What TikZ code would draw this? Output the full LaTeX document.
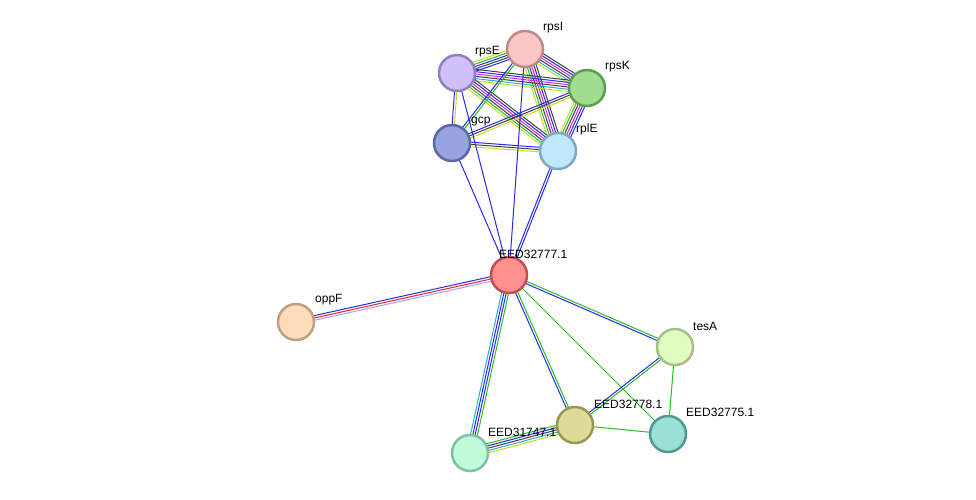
\documentclass[tikz,border=0pt]{standalone}
\usepackage{fontspec}
\setmainfont{Liberation Sans}
\usetikzlibrary{calc}
\definecolor{cG}{HTML}{22C022}\definecolor{cB}{HTML}{2828F0}\definecolor{cR}{HTML}{F02020}
\definecolor{cC}{HTML}{20B0D8}\definecolor{cM}{HTML}{E020E0}\definecolor{cK}{HTML}{404040}
\definecolor{cY}{HTML}{C8D820}\definecolor{cL}{HTML}{A8A0F0}
\newcommand{\medge}[3]{%
 \foreach \c [count=\i] in {#3} {\xdef\nn{\i}}%
 \foreach \c [count=\i] in {#3} {%
  \pgfmathsetmacro{\o}{(\i-(\nn+1)/2)*2.3}%
  \draw[\c,line width=1pt] ($(#1)!\o pt!90:(#2)$) -- ($(#2)!\o pt!-90:(#1)$);}}
\tikzset{prot/.style={circle,minimum size=36pt,inner sep=0pt,line width=2.5pt},
 lab/.style={anchor=west,inner sep=0pt,font=\fontsize{12}{12}\selectfont}}
\begin{document}
\begin{tikzpicture}[x=1pt,y=-1pt]
\useasboundingbox (0,0) rectangle (976,499);
\coordinate (rpsI) at (525,49);\coordinate (rpsE) at (457,73);\coordinate (rpsK) at (587,88);
\coordinate (gcp) at (452,143);\coordinate (rplE) at (558,151);\coordinate (e77) at (509,275);
\coordinate (oppF) at (296,322);\coordinate (tesA) at (675,347);\coordinate (e78) at (575,425);
\coordinate (e75) at (668,434);\coordinate (e47) at (470,453);
\medge{rpsI}{rpsE}{cY,cG,cB,cK,cB}
\medge{rpsI}{rpsK}{cY,cC,cK,cM,cB,cK}
\medge{rpsI}{rplE}{cY,cG,cK,cM,cB,cK}
\medge{rpsE}{rpsK}{cY,cC,cK,cM,cB,cK}
\medge{rpsE}{rplE}{cY,cG,cK,cM,cB,cK}
\medge{rpsK}{rplE}{cY,cG,cK,cM,cB,cB}
\medge{gcp}{rpsE}{cY,cB}
\medge{gcp}{rpsI}{cG,cB}
\medge{gcp}{rpsK}{cY,cK,cB}
\medge{gcp}{rplE}{cY,cK,cB}
\medge{e77}{rpsE}{cB}
\medge{e77}{rpsI}{cB}
\medge{e77}{gcp}{cB}
\medge{e77}{rplE}{cB,cB}
\medge{e77}{oppF}{cB,cR,cL}
\medge{e77}{tesA}{cB,cG}
\medge{e77}{e75}{cG}
\medge{e77}{e78}{cB,cG}
\medge{e77}{e47}{cC,cB,cB,cG}
\medge{tesA}{e78}{cB,cG}
\medge{tesA}{e75}{cG}
\medge{e78}{e75}{cG}
\medge{e47}{e78}{cY,cC,cK,cB,cG}
\node[prot,fill={rgb,255:red,249;green,198;blue,198},draw={rgb,255:red,192;green,136;blue,136}] (nrpsI) at (rpsI) {};
\node[prot,fill={rgb,255:red,208;green,192;blue,248},draw={rgb,255:red,144;green,128;blue,192}] (nrpsE) at (rpsE) {};
\node[prot,fill={rgb,255:red,160;green,220;blue,144},draw={rgb,255:red,90;green,160;blue,80}] (nrpsK) at (rpsK) {};
\node[prot,fill={rgb,255:red,152;green,164;blue,224},draw={rgb,255:red,88;green,104;blue,168}] (ngcp) at (gcp) {};
\node[prot,fill={rgb,255:red,192;green,232;blue,252},draw={rgb,255:red,128;green,168;blue,192}] (nrplE) at (rplE) {};
\node[prot,fill={rgb,255:red,255;green,144;blue,144},draw={rgb,255:red,192;green,80;blue,80}] (ne77) at (e77) {};
\node[prot,fill={rgb,255:red,253;green,220;blue,188},draw={rgb,255:red,192;green,160;blue,128}] (noppF) at (oppF) {};
\node[prot,fill={rgb,255:red,224;green,252;blue,192},draw={rgb,255:red,168;green,192;blue,136}] (ntesA) at (tesA) {};
\node[prot,fill={rgb,255:red,220;green,220;blue,152},draw={rgb,255:red,152;green,152;blue,80}] (ne78) at (e78) {};
\node[prot,fill={rgb,255:red,152;green,224;blue,216},draw={rgb,255:red,80;green,152;blue,144}] (ne75) at (e75) {};
\node[prot,fill={rgb,255:red,192;green,252;blue,216},draw={rgb,255:red,128;green,192;blue,160}] (ne47) at (e47) {};
\node[lab] (lrpsI) at (543,28) {rpsI};
\node[lab] (lrpsE) at (475,52) {rpsE};
\node[lab] (lrpsK) at (605,67) {rpsK};
\node[lab] (lgcp) at (471,122) {gcp};
\node[lab] (lrplE) at (576,129) {rplE};
\node[lab] (le77) at (499,254) {EED32777.1};
\node[lab] (loppF) at (315,300) {oppF};
\node[lab] (ltesA) at (693,326) {tesA};
\node[lab] (le78) at (594,404) {EED32778.1};
\node[lab] (le75) at (686,412) {EED32775.1};
\node[lab] (le47) at (488,432) {EED31747.1};
\end{tikzpicture}
\end{document}
